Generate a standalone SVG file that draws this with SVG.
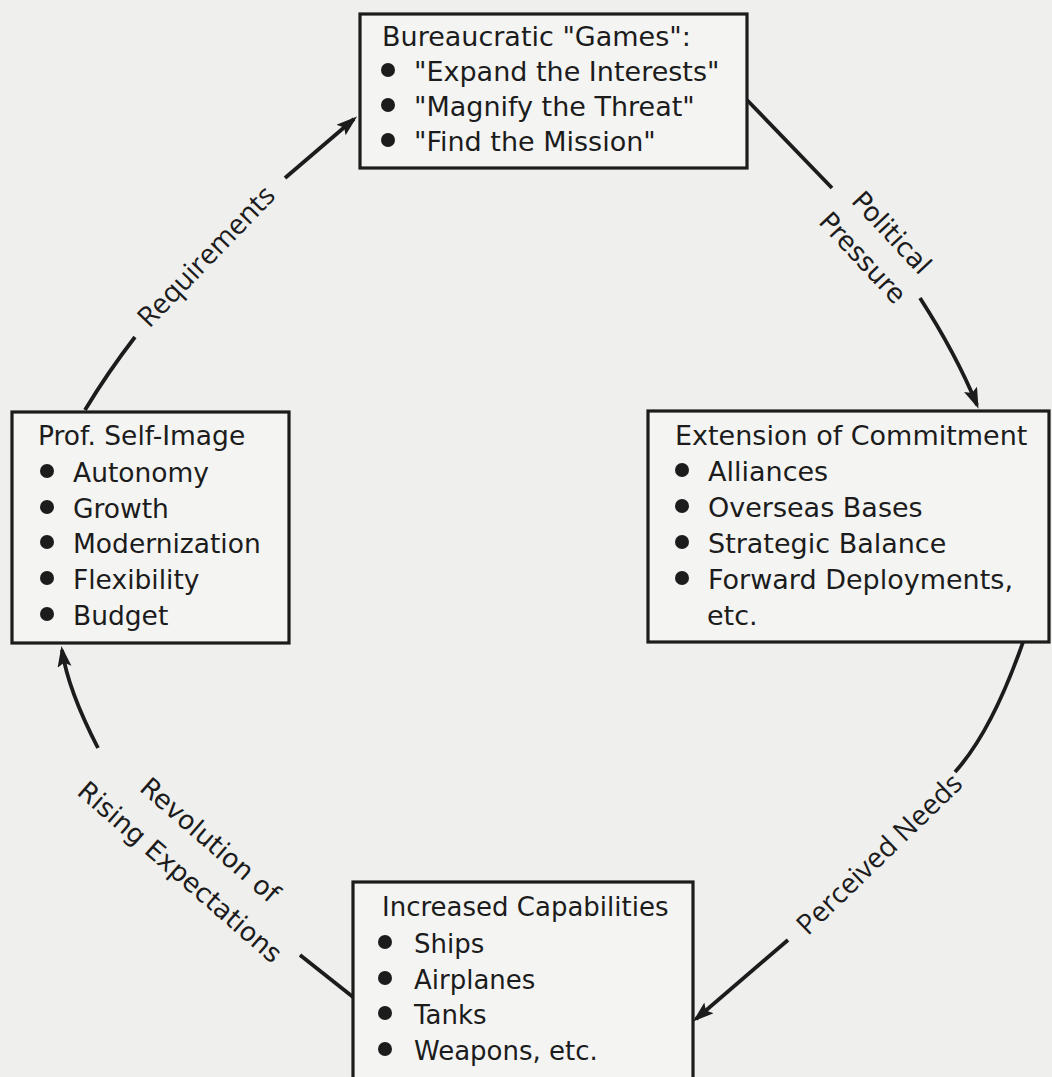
<svg xmlns="http://www.w3.org/2000/svg" width="1052" height="1077" viewBox="0 0 1052 1077">
<style>
.bx{fill:#f4f4f3;stroke:#1c1c1c;stroke-width:3.2}
.t{font-family:"DejaVu Sans","Liberation Sans",sans-serif;font-size:27px;fill:#1c1c1c}
.tb{font-family:"DejaVu Sans","Liberation Sans",sans-serif;font-size:26px;fill:#1c1c1c}
.lb{font-family:"DejaVu Sans","Liberation Sans",sans-serif;font-size:26.5px;fill:#1c1c1c;text-anchor:middle}
.lo{font-family:"Open Sans","DejaVu Sans",sans-serif;font-size:28px;fill:#1c1c1c;text-anchor:middle}
.c{fill:none;stroke:#1c1c1c;stroke-width:3.8}
.d{fill:#1c1c1c}
</style>
<defs>
<marker id="ah" markerUnits="userSpaceOnUse" markerWidth="24" markerHeight="16" refX="17" refY="7" orient="auto" viewBox="0 0 24 16">
<path d="M0,0 L21,7 L0,14 L4,7 z" fill="#1c1c1c"/>
</marker>
</defs>
<rect width="1052" height="1077" fill="#efefee"/>

<g id="connectors">
<path class="c" d="M747,100 L832,188"/>
<path class="c" d="M920,298 Q956,354 977,405" marker-end="url(#ah)"/>
<path class="c" d="M1023,642 Q992,731 955,772"/>
<path class="c" d="M788,940 L696,1019" marker-end="url(#ah)"/>
<path class="c" d="M353,997 L300,955"/>
<path class="c" d="M98,748 Q68,690 62,650" marker-end="url(#ah)"/>
<path class="c" d="M85,410 Q108,372 135,337"/>
<path class="c" d="M285,178 L354,119" marker-end="url(#ah)"/>
<text class="lb" transform="translate(885,239) rotate(47)">Political</text>
<text class="lb" transform="translate(856,264) rotate(47)">Pressure</text>
<text class="lo" transform="translate(886,861) rotate(-44)">Perceived Needs</text>
<text class="lb" transform="translate(204,847) rotate(41)">Revolution of</text>
<text class="lb" transform="translate(174,879) rotate(41)">Rising Expectations</text>
<text class="lo" transform="translate(213,263) rotate(-46)">Requirements</text>
</g>

<g id="node-games">
<rect class="bx" x="360" y="14" width="387" height="154"/>
<text class="t" x="382" y="46">Bureaucratic "Games":</text>
<circle class="d" cx="388" cy="70" r="7"/>
<text class="t" x="414" y="81">"Expand the Interests"</text>
<circle class="d" cx="388" cy="105" r="7"/>
<text class="t" x="414" y="116">"Magnify the Threat"</text>
<circle class="d" cx="388" cy="140" r="7"/>
<text class="t" x="414" y="151">"Find the Mission"</text>
</g>

<g id="node-commitment">
<rect class="bx" x="648" y="411" width="401" height="231"/>
<text class="t" x="675" y="445">Extension of Commitment</text>
<circle class="d" cx="682" cy="470" r="7"/>
<text class="t" x="708" y="481">Alliances</text>
<circle class="d" cx="682" cy="506" r="7"/>
<text class="t" x="708" y="517">Overseas Bases</text>
<circle class="d" cx="682" cy="542" r="7"/>
<text class="t" x="708" y="553">Strategic Balance</text>
<circle class="d" cx="682" cy="578" r="7"/>
<text class="t" x="708" y="589">Forward Deployments,</text>
<text class="t" x="707" y="625">etc.</text>
</g>

<g id="node-capabilities">
<rect class="bx" x="353" y="882" width="340" height="210"/>
<text class="tb" x="382" y="916">Increased Capabilities</text>
<circle class="d" cx="385" cy="942" r="7"/>
<text class="tb" x="414" y="953">Ships</text>
<circle class="d" cx="385" cy="978" r="7"/>
<text class="tb" x="414" y="989">Airplanes</text>
<circle class="d" cx="385" cy="1013" r="7"/>
<text class="tb" x="414" y="1024">Tanks</text>
<circle class="d" cx="385" cy="1049" r="7"/>
<text class="tb" x="414" y="1060">Weapons, etc.</text>
</g>

<g id="node-selfimage">
<rect class="bx" x="12" y="412" width="277" height="231"/>
<text class="t" x="38" y="445" style="font-size:26.5px">Prof. Self-Image</text>
<circle class="d" cx="47" cy="471" r="7"/>
<text class="t" x="73" y="482" style="font-size:26.5px">Autonomy</text>
<circle class="d" cx="47" cy="507" r="7"/>
<text class="t" x="73" y="518" style="font-size:26.5px">Growth</text>
<circle class="d" cx="47" cy="542" r="7"/>
<text class="t" x="73" y="553" style="font-size:26.5px">Modernization</text>
<circle class="d" cx="47" cy="578" r="7"/>
<text class="t" x="73" y="589" style="font-size:26.5px">Flexibility</text>
<circle class="d" cx="47" cy="614" r="7"/>
<text class="t" x="73" y="625" style="font-size:26.5px">Budget</text>
</g>
</svg>
